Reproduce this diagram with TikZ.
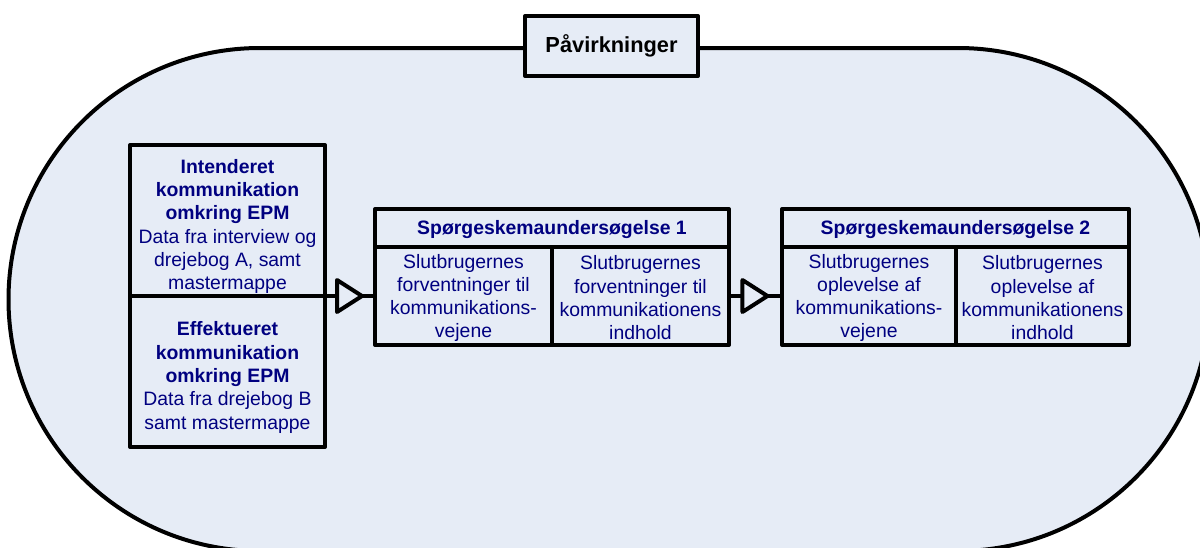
\documentclass[tikz,border=0pt]{standalone}
\usepackage{fontspec}
\setmainfont{Liberation Sans}
\usetikzlibrary{calc}
\definecolor{panel}{RGB}{230,236,246}
\definecolor{ink}{RGB}{0,0,128}
\begin{document}
\begin{tikzpicture}[x=1pt,y=-1pt,
  frame/.style={draw=black,line width=4pt,line join=round,fill=panel,
    inner sep=0pt,outer sep=0pt},
  body/.style={inner sep=0pt,align=center,text=ink,
    font=\fontsize{19.4}{23.3}\selectfont},
  headtext/.style={body,font=\fontsize{19.4}{23.3}\selectfont\bfseries},
  titlebox/.style={frame,text=black,font=\fontsize{21.8}{26}\selectfont\bfseries},
  link/.style={draw=black,line width=4pt},
  tri/.style={draw=black,line width=4pt,line join=round,fill=panel}]
\useasboundingbox (0,0) rectangle (1200,547);
\clip (0,0) rectangle (1200,547);

% outer stadium
\draw[line width=4pt,fill=panel,rounded corners=251.5pt] (8.5,48) rectangle (1209.5,551);

% title on the stadium border
\node[titlebox,minimum width=173pt,minimum height=60pt] (T) at (611.5,46) {Påvirkninger};

% left column
\node[frame,minimum width=195pt,minimum height=151pt] (LU) at (227.5,220.5) {};
\node[frame,minimum width=195pt,minimum height=151pt] (LL) at (227.5,371.5) {};
\node[body] (LUt) at ([yshift=-6pt]LU.center)
  {\textbf{Intenderet}\\\textbf{kommunikation}\\\textbf{omkring EPM}\\Data fra interview og\\drejebog A, samt\\mastermappe};
\node[body] (LLt) at ([yshift=-6pt]LL.center)
  {\textbf{Effektueret}\\\textbf{kommunikation}\\\textbf{omkring EPM}\\Data fra drejebog B\\samt mastermappe};

% survey 1
\node[frame,minimum width=354pt,minimum height=38pt] (S1H) at (552,228) {};
\node[frame,minimum width=177pt,minimum height=98pt] (S1L) at (463.5,296) {};
\node[frame,minimum width=177pt,minimum height=98pt] (S1R) at (640.5,296) {};
\node[headtext] (S1Ht) at ([yshift=-2pt]S1H.center) {Spørgeskemaundersøgelse 1};
\node[body] (S1Lt) at ([yshift=-2pt]S1L.center)
  {Slutbrugernes\\forventninger til\\kommunikations-\\vejene};
\node[body] (S1Rt) at ([yshift=-2pt]S1R.center)
  {Slutbrugernes\\forventninger til\\kommunikationens\\indhold};

% survey 2
\node[frame,minimum width=347pt,minimum height=38pt] (S2H) at (955.5,228) {};
\node[frame,minimum width=174pt,minimum height=98pt] (S2L) at (869,296) {};
\node[frame,minimum width=173pt,minimum height=98pt] (S2R) at (1042.5,296) {};
\node[headtext] (S2Ht) at ([yshift=-2pt]S2H.center) {Spørgeskemaundersøgelse 2};
\node[body] (S2Lt) at ([yshift=-2pt]S2L.center)
  {Slutbrugernes\\oplevelse af\\kommunikations-\\vejene};
\node[body] (S2Rt) at ([yshift=-2pt]S2R.center)
  {Slutbrugernes\\oplevelse af\\kommunikationens\\indhold};

% connectors with open triangle heads
\draw[link] (LU.south east) -- coordinate[pos=0.49] (t1) (S1L.west);
\draw[link] (S1R.east) -- coordinate[pos=0.49] (t2) (S2L.west);
\foreach \t in {t1,t2}{
  \draw[tri] ($(\t)+(-12.5,-16)$) -- ($(\t)+(12.5,0)$) -- ($(\t)+(-12.5,16)$) -- cycle;
}
\end{tikzpicture}
\end{document}
